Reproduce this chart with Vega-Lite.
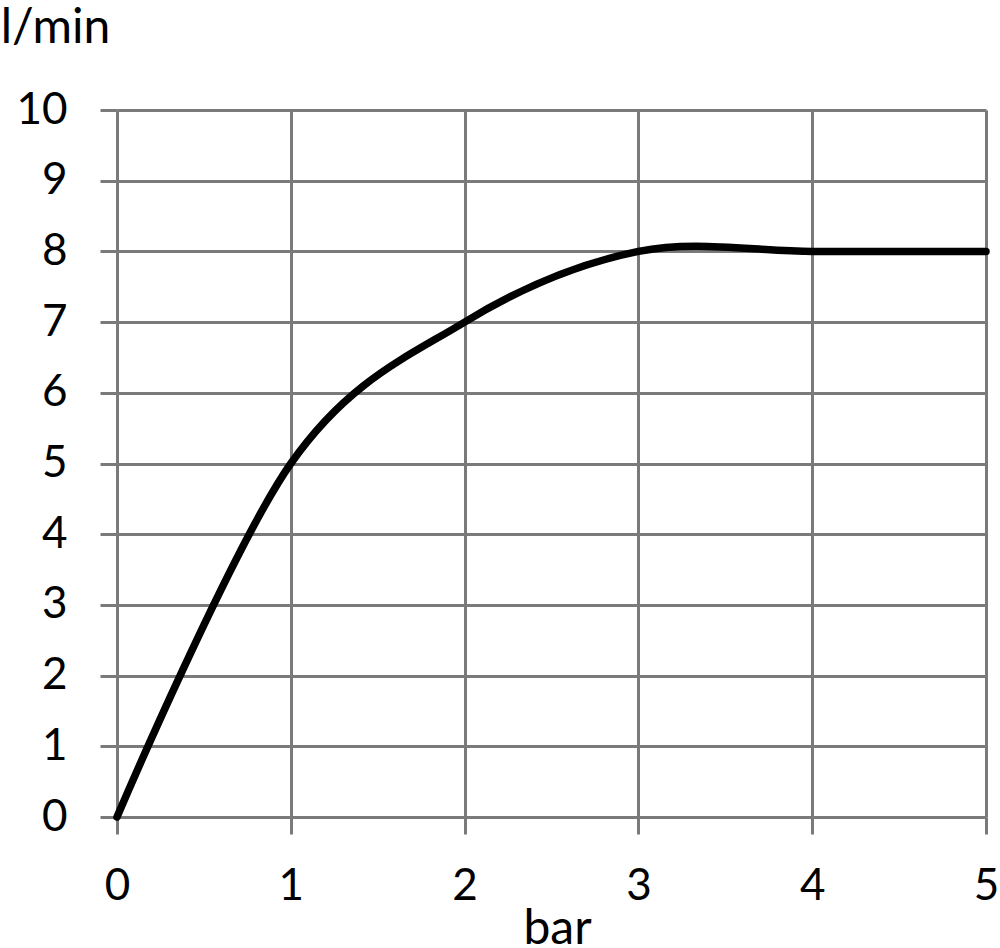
{
  "$schema": "https://vega.github.io/schema/vega-lite/v6.json",
  "autosize": {"type": "none"},
  "width": 869,
  "height": 707,
  "padding": {"left": 117, "top": 110, "right": 14, "bottom": 131},
  "background": "white",
  "config": {
    "view": {"stroke": null},
    "font": "Lato",
    "axis": {
      "grid": true,
      "gridColor": "#7a7a7a",
      "gridWidth": 3,
      "gridOpacity": 1,
      "domainColor": "#7a7a7a",
      "domainWidth": 3,
      "tickColor": "#7a7a7a",
      "tickWidth": 3,
      "tickSize": 17,
      "labelFont": "Lato",
      "labelFontSize": 44,
      "labelColor": "black",
      "labelFontWeight": "normal",
      "titleFont": "Lato",
      "titleFontSize": 48,
      "titleFontWeight": "normal",
      "titleColor": "black"
    }
  },
  "data": {
    "values": [
      {"bar": 0, "flow": 0},
      {"bar": 1, "flow": 5},
      {"bar": 2, "flow": 7},
      {"bar": 3, "flow": 8},
      {"bar": 4, "flow": 8},
      {"bar": 5, "flow": 8}
    ]
  },
  "mark": {"type": "line", "interpolate": "cardinal", "color": "black", "strokeWidth": 7.5, "strokeCap": "round", "clip": false},
  "encoding": {
    "x": {
      "field": "bar",
      "type": "quantitative",
      "scale": {"domain": [0, 5], "nice": false, "zero": true},
      "axis": {
        "values": [0, 1, 2, 3, 4, 5],
        "format": "d",
        "title": "bar",
        "labelPadding": 52,
        "labelBaseline": "middle",
        "labelFlush": false,
        "titleX": 440,
        "titleY": 126,
        "titleAnchor": null,
        "titleAlign": "center",
        "titleBaseline": "alphabetic"
      }
    },
    "y": {
      "field": "flow",
      "type": "quantitative",
      "scale": {"domain": [0, 10], "nice": false},
      "axis": {
        "values": [0, 1, 2, 3, 4, 5, 6, 7, 8, 9, 10],
        "format": "d",
        "title": "l/min",
        "labelPadding": 33,
        "labelFlush": false,
        "titleAngle": 0,
        "titleX": -62,
        "titleY": -68,
        "titleAlign": "center",
        "titleBaseline": "alphabetic"
      }
    }
  }
}
